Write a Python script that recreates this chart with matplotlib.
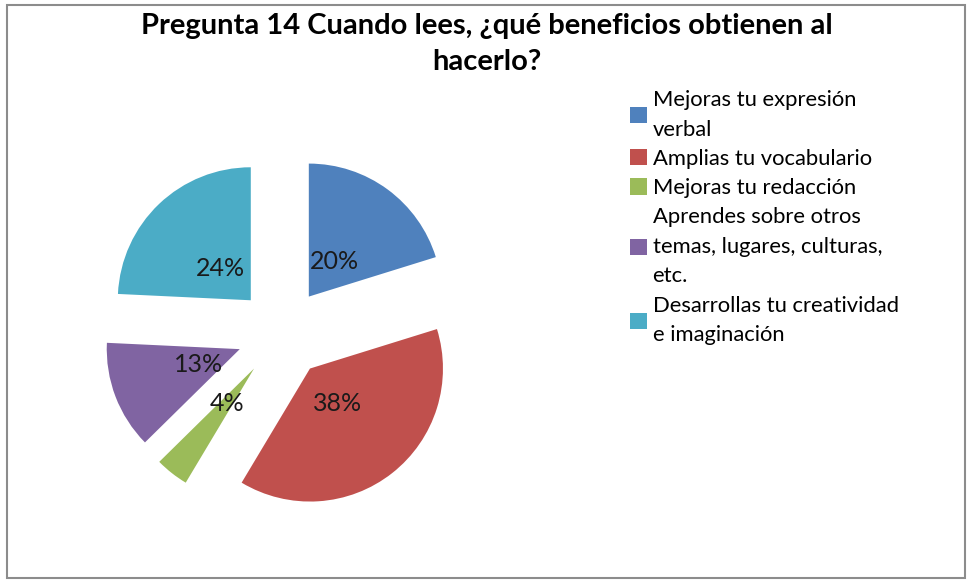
import matplotlib.pyplot as plt
from matplotlib.patches import Rectangle

plt.rcParams['font.family'] = ['Lato', 'DejaVu Sans']

categories = ['Mejoras tu expresión\nverbal', 'Amplias tu vocabulario', 'Mejoras tu redacción',
              'Aprendes sobre otros\ntemas, lugares, culturas,\netc.',
              'Desarrollas tu creatividad\ne imaginación']
values = [20, 38, 4, 13, 24]
colors = ['#4F81BD', '#C0504D', '#9BBB59', '#8064A2', '#4BACC6']

W, H = 967, 580
fig = plt.figure(figsize=(W / 100, H / 100), dpi=100)

# outer chart border
fig.patches.append(Rectangle((7 / W, 2 / H), 958 / W, 573 / H, transform=fig.transFigure,
                             fill=False, edgecolor='#8c8c8c', linewidth=1.5))

fig.text(487 / W, 1 - 44 / H, 'Pregunta 14 Cuando lees, ¿qué beneficios obtienen al\nhacerlo?',
         ha='center', va='center', fontsize=21, fontweight='bold', linespacing=1.5)

# pie axes centred at pixel (282, 333), radius 133 px
cx, cy, half, r = 282, 333, 200, 133
ax = fig.add_axes([(cx - half) / W, (H - cy - half) / H, 2 * half / W, 2 * half / H])
wedges, texts, autotexts = ax.pie(values, colors=colors, startangle=90, counterclock=False,
                                  explode=[0.34] * len(values), radius=1,
                                  autopct=lambda p: '', pctdistance=0.33)
for at, v in zip(autotexts, values):
    at.set_text(f'{v}%')
    at.set_fontsize(18)
    at.set_color('#1a1a1a')
L = half / r
ax.set_xlim(-L, L)
ax.set_ylim(-L, L)
ax.set_aspect('equal')
ax.axis('off')

leg = fig.legend(wedges, categories, loc='upper left', bbox_to_anchor=(630 / W, 1 - 90 / H),
                 frameon=False, fontsize=15.8, handlelength=0.78, handleheight=0.78,
                 handletextpad=0.25, labelspacing=0.42, borderaxespad=0, borderpad=0)
for t in leg.get_texts():
    t.set_linespacing(1.6)

fig.savefig('out.png', dpi=100)
